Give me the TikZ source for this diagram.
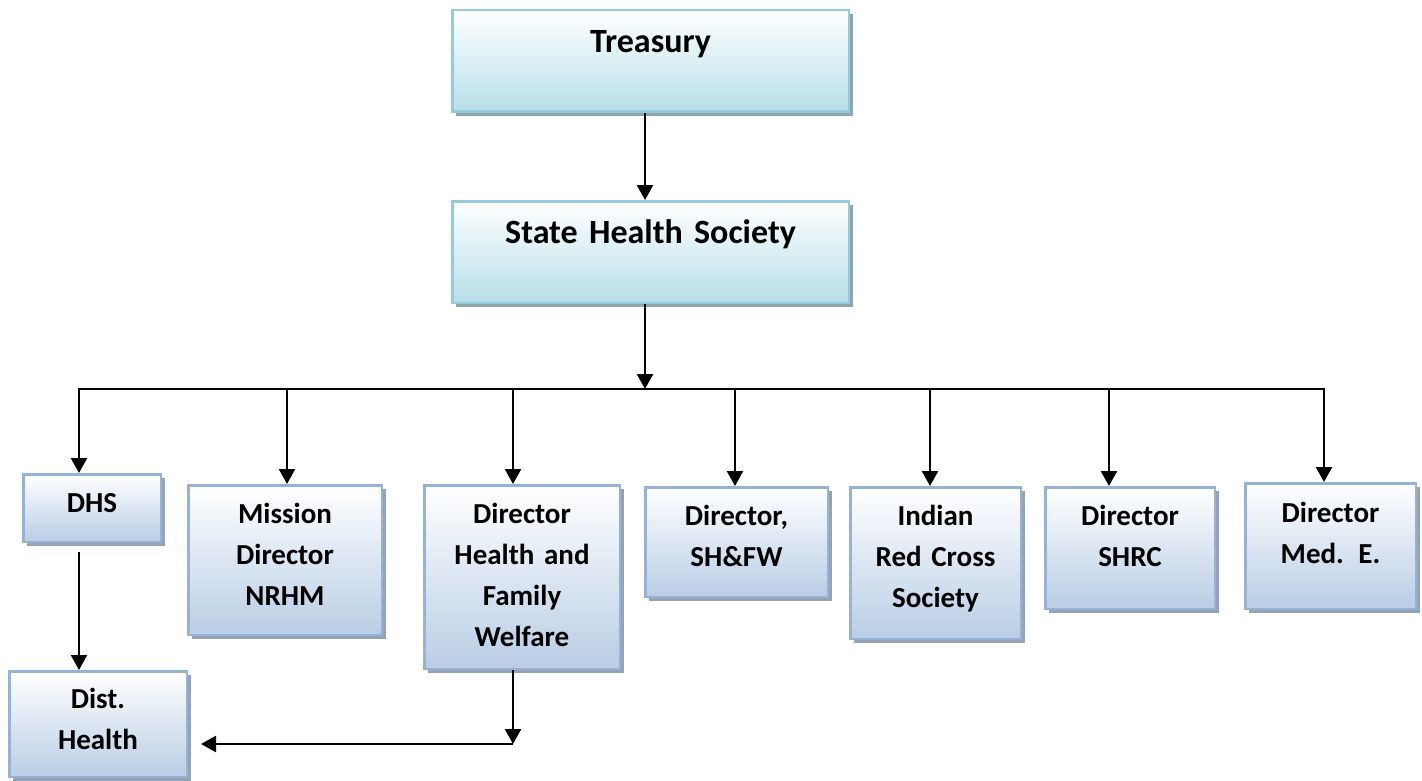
\documentclass[tikz,border=0pt]{standalone}
\usepackage{fontspec}
\setmainfont{Carlito}
\usetikzlibrary{positioning,shadows,arrows.meta}
\definecolor{topline}{HTML}{93CDDD}
\definecolor{topfill}{HTML}{B7DEE8}
\definecolor{topshade}{HTML}{8FA6AE}
\definecolor{subline}{HTML}{95B3D7}
\definecolor{subfill}{HTML}{B9CDE5}
\definecolor{subshade}{HTML}{96A3B5}

\begin{document}
\begin{tikzpicture}[
  x=1pt, y=-1pt,
  >={Triangle[length=15pt,width=16pt]},
  link/.style={->,line width=2.4pt},
  topnode/.style={draw=topline,line width=2.5pt,top color=white,bottom color=topfill,
    drop shadow={shadow xshift=4pt,shadow yshift=-4pt,fill=topshade,opacity=1},
    anchor=north west,inner sep=0pt,align=center,text width=396.5pt,
    text height=42pt,text depth=59.5pt,font=\fontsize{34}{41}\selectfont\bfseries},
  subnode/.style={draw=subline,line width=2.5pt,top color=white,bottom color=subfill,
    drop shadow={shadow xshift=4pt,shadow yshift=-4pt,fill=subshade,opacity=1},
    anchor=north west,inner sep=0pt,align=center,text height=38pt,
    font=\fontsize{29}{41}\selectfont\bfseries}
]
\useasboundingbox (0,0) rectangle (1422,781);
\node[topnode] (T) at (451,9) {Treasury};
\node[topnode,below=87pt of T] (S) {State Health Society};
\node[subnode,text width=137.5pt,text depth=29.5pt] (DHS) at (22,473) {DHS};
\node[subnode,text width=193.5pt,text depth=111.5pt] (MD) at (187,484) {Mission\\Director\\NRHM};
\node[subnode,text width=195.5pt,text depth=145.5pt] (DHFW) at (423,484) {Director\\Health and\\Family\\Welfare};
\node[subnode,text width=182.5pt,text depth=71.5pt] (SHFW) at (644,486) {Director,\\SH\&FW};
\node[subnode,text width=170.5pt,text depth=113.5pt] (IRCS) at (849,486) {Indian\\Red Cross\\Society};
\node[subnode,text width=169.5pt,text depth=83.5pt] (SHRC) at (1044,486) {Director\\SHRC};
\node[subnode,text width=170.5pt,text height=39pt,text depth=86.5pt] (ME) at (1244,482) {Director\\Med. E.};
\node[subnode,text width=177.5pt,text height=37pt,text depth=68.5pt] (DH) at (8,670) {Dist.\\Health};
\coordinate (b0) at (645,389);
\coordinate (b1) at (79,389);
\coordinate (b2) at (287,389);
\coordinate (b3) at (513,389);
\coordinate (b4) at (735,389);
\coordinate (b5) at (930,389);
\coordinate (b6) at (1109,389);
\coordinate (b7) at (1324,389);
\coordinate (c) at (513,744);
\draw[line width=2.4pt,line cap=rect] (b1) -- (b7);
\path (T.south -| b0) edge[link] (S.north -| b0)
(S.south -| b0) edge[link] (b0)
(b1) edge[link] (b1 |- DHS.north)
(b2) edge[link] (b2 |- MD.north)
(b3) edge[link] (b3 |- DHFW.north)
(b4) edge[link] (b4 |- SHFW.north)
(b5) edge[link] (b5 |- IRCS.north)
(b6) edge[link] (b6 |- SHRC.north)
(b7) edge[link] (b7 |- ME.north)
(DHS.south -| b1) edge[link,shorten <=9pt] (DH.north -| b1)
(DHFW.south -| b3) edge[link] (c)
(c) edge[link,shorten >=13pt] (DH.east |- c);
\end{tikzpicture}
\end{document}
